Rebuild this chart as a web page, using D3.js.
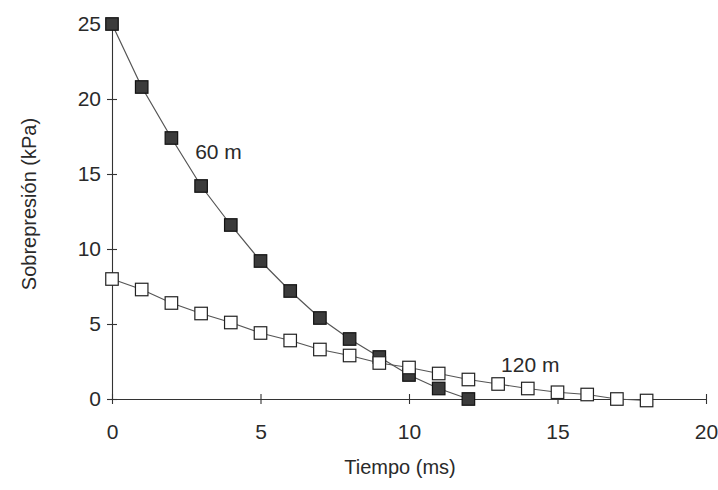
<!DOCTYPE html>
<html>
<head>
<meta charset="utf-8">
<script src="https://cdn.jsdelivr.net/npm/d3@7"></script>
<style>
  body { margin: 0; background: #fff; }
  text { font-family: "Liberation Sans", Arial, sans-serif; fill: #2a2a2a; }
</style>
</head>
<body>
<div id="chart-area"></div>
<script>
// time (ms) for each sample
var tiempo = [0, 1, 2, 3, 4, 5, 6, 7, 8, 9, 10, 11, 12, 13, 14, 15, 16, 17, 18];
// overpressure (kPa) at 60 m and 120 m
var p60 = [25, 20.8, 17.4, 14.2, 11.6, 9.2, 7.2, 5.4, 4.0, 2.8, 1.6, 0.7, 0];
var p120 = [8.0, 7.3, 6.4, 5.7, 5.1, 4.4, 3.9, 3.3, 2.9, 2.4, 2.1, 1.7, 1.3, 1.0, 0.7, 0.45, 0.3, 0, -0.1];
var xTicks = [0, 5, 10, 15, 20];
var yTicks = [0, 5, 10, 15, 20, 25];
var seriesNames = ["60 m", "120 m"];

var width = 718, height = 490;
var margin = {top: 24, right: 12, bottom: 91, left: 112};

var svg = d3.select("#chart-area").append("svg")
  .attr("width", width)
  .attr("height", height);

var g = svg.append("g")
  .attr("transform", "translate(" + margin.left + "," + margin.top + ")");

var w = 706 - margin.left, h = 399 - margin.top;

var x = d3.scaleLinear().domain([0, 20]).range([0, w]);
var y = d3.scaleLinear().domain([0, 25]).range([h, 0]);

// axes, ticks cross the axis line
var bottomAxis = d3.axisBottom(x).tickValues(xTicks).tickSize(5).tickSizeOuter(0).tickPadding(20);
var xg = g.append("g")
  .attr("transform", "translate(0," + h + ")")
  .call(bottomAxis);
xg.selectAll(".tick line").attr("y1", -5);

var leftAxis = d3.axisLeft(y).tickValues(yTicks).tickSize(5).tickSizeOuter(0).tickPadding(6);
var yg = g.append("g").call(leftAxis);
yg.selectAll(".tick line").attr("x1", 5);

g.selectAll(".domain, .tick line").attr("stroke", "#333").attr("stroke-width", 1.1);
g.selectAll(".tick text").attr("font-size", "21px").style("font-family", "'Liberation Sans', Arial, sans-serif").attr("fill", "#2a2a2a");
yg.select(".tick:last-of-type line").remove();

// axis titles
svg.append("text")
  .attr("x", 400)
  .attr("y", 474)
  .attr("text-anchor", "middle")
  .attr("font-size", "20px")
  .text("Tiempo (ms)");

svg.append("text")
  .attr("transform", "translate(36,204) rotate(-90)")
  .attr("text-anchor", "middle")
  .attr("font-size", "20px")
  .text("Sobrepresión (kPa)");

var line = d3.line()
  .x(d => x(d[0]))
  .y(d => y(d[1]));

var d60 = p60.map((v, i) => [tiempo[i], v]);
var d120 = p120.map((v, i) => [tiempo[i], v]);

var s = 12.5;

function drawSeries(data, fill, stroke) {
  g.append("path")
    .datum(data)
    .attr("fill", "none")
    .attr("stroke", "#555")
    .attr("stroke-width", 1.2)
    .attr("d", line);
  g.selectAll(null)
    .data(data)
    .enter()
    .append("rect")
    .attr("x", d => x(d[0]) - s / 2)
    .attr("y", d => y(d[1]) - s / 2)
    .attr("width", s)
    .attr("height", s)
    .attr("fill", fill)
    .attr("stroke", stroke)
    .attr("stroke-width", 1.2);
}

drawSeries(d60, "#3b3b3b", "#111");
drawSeries(d120, "#fff", "#222");

// series labels
g.append("text")
  .attr("x", x(2.8))
  .attr("y", y(16))
  .attr("font-size", "21px")
  .text(seriesNames[0]);

g.append("text")
  .attr("x", x(13.1))
  .attr("y", y(1.8))
  .attr("font-size", "21px")
  .text(seriesNames[1]);
</script>
</body>
</html>
